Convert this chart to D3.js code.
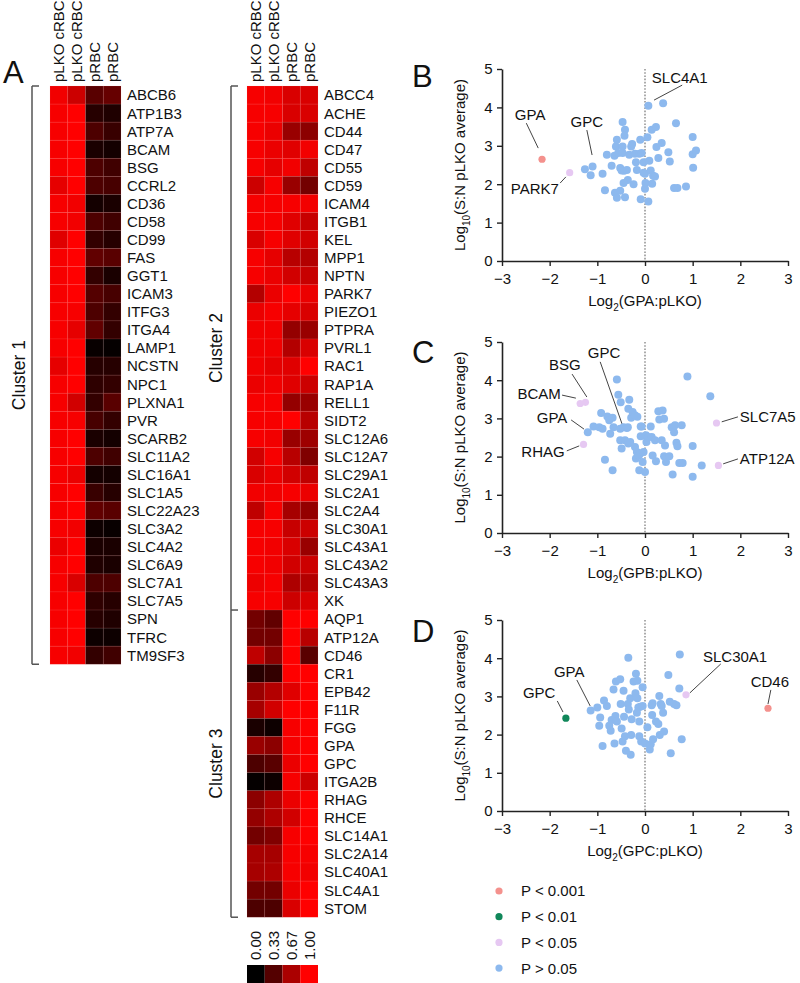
<!DOCTYPE html>
<html><head><meta charset="utf-8">
<script src="https://cdn.jsdelivr.net/npm/d3@7"></script>
<style>body{margin:0;background:#fff}svg{display:block;font-family:"Liberation Sans",Arial,sans-serif}</style>
</head><body><svg id="c" width="800" height="983"></svg>
<script>
// ---------------- DATA ----------------
const columns = ["pLKO cRBC","pLKO cRBC","pRBC","pRBC"];
const cluster1Genes = ["ABCB6","ATP1B3","ATP7A","BCAM","BSG","CCRL2","CD36","CD58","CD99","FAS","GGT1","ICAM3","ITFG3","ITGA4","LAMP1","NCSTN","NPC1","PLXNA1","PVR","SCARB2","SLC11A2","SLC16A1","SLC1A5","SLC22A23","SLC3A2","SLC4A2","SLC6A9","SLC7A1","SLC7A5","SPN","TFRC","TM9SF3"];
const cluster1Values = [[0.95,0.8,0.35,0.4],[0.97,1,0.15,0.12],[0.97,1,0.3,0.22],[0.97,1,0.1,0.08],[0.97,1,0.3,0.25],[0.9,1,0.3,0.28],[0.97,0.95,0.08,0.1],[0.97,0.95,0.3,0.25],[0.88,1,0.2,0.15],[0.97,1,0.38,0.35],[0.97,1,0.2,0.1],[0.97,1,0.33,0.28],[0.97,0.97,0.3,0.2],[0.97,0.9,0.38,0.2],[0.97,1,0.03,0.02],[0.9,1,0.15,0.15],[0.97,1,0.18,0.2],[0.97,0.82,0.2,0.35],[0.97,0.97,0.28,0.2],[0.97,1,0.1,0.08],[0.97,1,0.3,0.25],[0.97,0.92,0.08,0.08],[0.97,1,0.22,0.15],[0.97,1,0.38,0.35],[0.97,0.95,0.05,0.03],[0.92,1,0.1,0.1],[0.97,1,0.12,0.1],[0.97,0.85,0.3,0.3],[0.97,1,0.18,0.15],[0.97,1,0.15,0.12],[0.97,1,0.05,0.05],[0.97,0.95,0.2,0.25]];
const cluster2Genes = ["ABCC4","ACHE","CD44","CD47","CD55","CD59","ICAM4","ITGB1","KEL","MPP1","NPTN","PARK7","PIEZO1","PTPRA","PVRL1","RAC1","RAP1A","RELL1","SIDT2","SLC12A6","SLC12A7","SLC29A1","SLC2A1","SLC2A4","SLC30A1","SLC43A1","SLC43A2","SLC43A3","XK"];
const cluster2Values = [[0.97,0.95,0.85,0.85],[0.97,0.97,0.85,0.85],[0.97,0.92,0.6,0.55],[0.97,0.92,0.88,0.95],[0.97,0.9,0.95,0.75],[0.8,0.97,0.6,0.45],[0.97,0.97,0.97,0.95],[0.97,0.97,0.88,0.78],[0.85,0.97,0.88,0.82],[0.97,0.9,0.72,0.7],[0.97,0.92,0.82,0.78],[0.7,0.92,1,0.92],[0.92,0.97,0.9,0.85],[0.95,0.95,0.58,0.6],[0.95,0.95,0.7,0.85],[0.95,0.9,0.88,1],[0.92,0.95,0.88,0.8],[0.97,0.97,0.58,0.6],[0.97,0.97,1,0.72],[0.97,0.95,0.6,0.62],[0.82,0.97,0.72,0.5],[0.85,0.92,0.82,0.75],[0.95,0.95,0.97,0.92],[0.75,0.97,0.65,0.58],[0.97,0.97,0.78,0.8],[0.97,0.95,0.85,0.6],[0.97,0.95,0.82,0.8],[0.93,0.97,0.68,0.7],[0.97,0.97,0.8,0.85]];
const cluster3Genes = ["AQP1","ATP12A","CD46","CR1","EPB42","F11R","FGG","GPA","GPC","ITGA2B","RHAG","RHCE","SLC14A1","SLC2A14","SLC40A1","SLC4A1","STOM"];
const cluster3Values = [[0.45,0.38,1,1],[0.45,0.45,1,0.72],[0.75,0.55,1,0.35],[0.15,0.2,1,1],[0.6,0.7,0.88,1],[0.65,0.82,1,1],[0.1,0.05,0.97,1],[0.6,0.55,0.97,1],[0.3,0.35,0.92,1],[0.02,0.05,0.97,0.8],[0.55,0.68,0.92,1],[0.58,0.68,0.82,1],[0.45,0.5,0.97,1],[0.65,0.65,0.97,0.97],[0.65,0.68,0.97,0.95],[0.45,0.45,0.92,1],[0.3,0.3,0.85,1]];
const colorbarTicks = [0, 0.33, 0.67, 1.0];

const xTicks = [-3,-2,-1,0,1,2,3];
const yTicks = [0,1,2,3,4,5];
const pCategories = ["P < 0.001","P < 0.01","P < 0.05","P > 0.05"];
const pColors = ["#f4918d","#10875a","#e6c8f2","#8db9ee"];

// Panel B: Log2(GPA:pLKO)
const bBlue = [[-1.26,2.39],[-1.10,2.46],[-1.14,2.23],[-0.89,2.27],[-0.84,1.84],[-0.80,2.77],[-0.70,2.48],[-0.64,2.74],[-0.61,2.98],[-0.59,3.16],[-0.63,1.78],[-0.59,1.65],[-0.52,1.83],[-0.56,2.81],[-0.52,2.42],[-0.47,2.81],[-0.47,3.62],[-0.42,3.42],[-0.43,3.26],[-0.47,2.98],[-0.49,2.36],[-0.44,2.35],[-0.38,2.37],[-0.36,2.11],[-0.45,2.03],[-0.42,1.66],[-0.33,2.77],[-0.29,2.98],[-0.27,3.05],[-0.24,2.00],[-0.21,2.79],[-0.19,2.57],[-0.17,2.37],[-0.10,3.16],[-0.12,2.79],[-0.07,2.81],[-0.09,1.61],[-0.03,2.57],[-0.03,2.30],[0.0,2.27],[0.01,2.03],[0.0,1.88],[0.07,1.55],[0.07,4.04],[0.05,3.22],[0.09,2.61],[0.12,2.36],[0.14,3.42],[0.15,2.01],[0.17,2.22],[0.21,2.20],[0.23,3.49],[0.24,2.97],[0.28,2.68],[0.35,3.07],[0.38,4.11],[0.49,2.83],[0.52,2.59],[0.65,3.59],[0.61,1.90],[0.68,1.90],[0.86,1.94],[1.00,3.23],[1.00,2.78],[1.07,2.88],[1.01,2.43]];
const bHighlights = [
  {gene:"GPA", x:-2.16, y:2.65, p:0, lx:-2.41, ly:3.80, anchor:"middle", l1:[-2.49,3.59], l2:[-2.24,2.94]},
  {gene:"PARK7", x:-1.58, y:2.30, p:2, lx:-2.31, ly:1.88, anchor:"middle", l1:[-1.78,2.03], l2:[-1.66,2.19]}
];
const bLabels = [
  {gene:"GPC", lx:-1.22, ly:3.62, anchor:"middle", l1:[-1.22,3.41], l2:[-1.11,2.76]},
  {gene:"SLC4A1", lx:0.73, ly:4.77, anchor:"middle", l1:[0.78,4.58], l2:[0.19,4.19]}
];

// Panel C: Log2(GPB:pLKO)
const cBlue = [[-1.20,2.64],[-1.08,2.79],[-0.92,3.14],[-0.96,2.77],[-0.89,2.73],[-0.84,1.92],[-0.79,3.05],[-0.75,2.95],[-0.73,2.60],[-0.68,3.02],[-0.66,2.77],[-0.68,1.64],[-0.59,4.02],[-0.56,3.62],[-0.52,2.73],[-0.51,3.42],[-0.52,2.43],[-0.49,2.21],[-0.45,2.77],[-0.38,2.75],[-0.36,2.77],[-0.33,3.49],[-0.35,3.25],[-0.42,2.43],[-0.35,2.34],[-0.31,2.38],[-0.29,3.02],[-0.26,3.17],[-0.21,3.08],[-0.21,2.25],[-0.19,1.95],[-0.17,2.12],[-0.16,3.04],[-0.13,2.03],[-0.10,2.08],[-0.09,2.79],[-0.03,2.12],[-0.05,1.86],[-0.12,1.64],[-0.07,2.79],[-0.09,2.53],[0.0,1.60],[0.02,2.56],[0.03,2.38],[0.07,2.51],[0.12,2.79],[0.14,2.51],[0.16,2.03],[0.21,2.43],[0.23,1.88],[0.28,3.19],[0.30,2.97],[0.35,2.43],[0.37,3.21],[0.40,2.99],[0.42,2.29],[0.40,2.01],[0.44,1.86],[0.51,2.01],[0.56,2.77],[0.58,1.53],[0.61,2.64],[0.63,2.82],[0.66,2.36],[0.68,2.27],[0.72,1.83],[0.77,2.82],[0.79,1.83],[0.89,4.10],[1.00,2.28],[1.00,1.47],[1.19,1.77],[1.37,3.58]];
const cHighlights = [
  {gene:"BCAM", x:-1.36, y:3.39, p:2, lx:-2.22, ly:3.66, anchor:"middle", l1:[-1.74,3.61], l2:[-1.45,3.53]},
  {gene:"BSG", x:-1.25, y:3.42, p:2, lx:-1.68, ly:4.40, anchor:"middle", l1:[-1.53,4.16], l2:[-1.22,3.56]},
  {gene:"RHAG", x:-1.29, y:2.32, p:2, lx:-2.14, ly:2.12, anchor:"middle", l1:[-1.64,2.15], l2:[-1.38,2.28]},
  {gene:"SLC7A5", x:1.50, y:2.88, p:2, lx:1.99, ly:3.04, anchor:"start", l1:[1.61,2.91], l2:[1.95,3.04]},
  {gene:"ATP12A", x:1.54, y:1.77, p:2, lx:1.99, ly:1.94, anchor:"start", l1:[1.64,1.81], l2:[1.95,1.94]}
];
const cLabels = [
  {gene:"GPC", lx:-0.86, ly:4.71, anchor:"middle", l1:[-0.94,4.48], l2:[-0.48,2.85]},
  {gene:"GPA", lx:-1.95, ly:3.01, anchor:"middle", l1:[-1.55,2.96], l2:[-1.28,2.72]}
];

// Panel D: Log2(GPC:pLKO)
const dBlue = [[-1.14,2.63],[-1.00,2.71],[-0.96,2.23],[-0.94,2.45],[-0.89,1.70],[-0.86,2.89],[-0.80,2.75],[-0.75,2.23],[-0.72,2.10],[-0.70,2.38],[-0.66,3.18],[-0.64,1.77],[-0.62,2.49],[-0.61,3.39],[-0.59,2.34],[-0.52,3.45],[-0.51,2.80],[-0.49,2.16],[-0.47,1.82],[-0.45,3.15],[-0.44,2.47],[-0.42,1.96],[-0.40,1.58],[-0.35,4.01],[-0.36,2.80],[-0.34,2.66],[-0.31,2.95],[-0.30,1.47],[-0.28,2.40],[-0.29,1.99],[-0.24,3.39],[-0.20,3.08],[-0.19,3.59],[-0.17,2.57],[-0.16,3.41],[-0.16,2.95],[-0.14,2.71],[-0.12,1.96],[-0.12,2.34],[-0.10,2.73],[-0.08,1.82],[-0.05,3.24],[-0.05,2.75],[0.0,1.77],[0.05,2.19],[0.10,1.61],[0.12,1.75],[0.14,2.77],[0.15,2.51],[0.17,1.88],[0.16,2.82],[0.23,2.34],[0.28,2.28],[0.30,3.01],[0.31,1.99],[0.33,2.80],[0.35,2.75],[0.38,2.57],[0.40,2.08],[0.49,3.56],[0.52,2.86],[0.54,1.51],[0.61,2.80],[0.66,2.77],[0.72,3.21],[0.73,4.10],[0.77,1.88]];
const dHighlights = [
  {gene:"GPC", x:-1.66, y:2.43, p:1, lx:-2.22, ly:3.09, anchor:"middle", l1:[-1.84,2.88], l2:[-1.72,2.59]},
  {gene:"SLC30A1", x:0.86, y:3.04, p:2, lx:1.89, ly:4.03, anchor:"middle", l1:[1.59,3.85], l2:[0.94,3.09]},
  {gene:"CD46", x:2.58, y:2.69, p:0, lx:2.62, ly:3.40, anchor:"middle", l1:[2.64,3.17], l2:[2.58,2.80]}
];
const dLabels = [
  {gene:"GPA", lx:-1.59, ly:3.64, anchor:"middle", l1:[-1.43,3.43], l2:[-1.15,2.75]}
];

// ---------------- DRAW ----------------
const svg = d3.select("#c");
const FONT = 15;
const heat = d3.scaleLinear().domain([0,1]).range(["#000000","#ff0000"]);
const rowH = 18.07, heatTop = 86;

function drawHeat(genes, values, x0, rowStart) {
  const xs = d3.scaleBand().domain(d3.range(4)).range([x0, x0+71]);
  const ys = d3.scaleBand().domain(d3.range(genes.length)).range([heatTop+rowStart*rowH, heatTop+(rowStart+genes.length)*rowH]);
  const g = svg.append("g");
  values.forEach((row,i)=>row.forEach((v,j)=>{
    g.append("rect").attr("x",xs(j)).attr("y",ys(i)).attr("width",xs.bandwidth()).attr("height",ys.bandwidth())
     .attr("fill",heat(v)).attr("stroke","rgba(255,150,150,0.15)").attr("stroke-width",0.7);
  }));
  genes.forEach((gname,i)=>{
    g.append("text").attr("x",x0+77).attr("y",ys(i)+ys.bandwidth()/2).attr("dy","0.36em")
     .attr("font-size",FONT).attr("fill","#111").text(gname);
  });
  return xs;
}
function drawColLabels(xs) {
  columns.forEach((c,j)=>{
    svg.append("text").attr("transform",`translate(${xs(j)+xs.bandwidth()/2+5.5},82) rotate(-90)`)
      .attr("font-size",FONT).attr("fill","#111").text(c);
  });
}
function bracket(x, y1, y2, label, lx, topTick, botTick) {
  const g = svg.append("g").attr("stroke","#555").attr("stroke-width",1.5).attr("fill","none");
  g.append("line").attr("x1",x).attr("x2",x).attr("y1",y1).attr("y2",y2);
  if (topTick) g.append("line").attr("x1",x).attr("x2",x+7).attr("y1",y1).attr("y2",y1);
  if (botTick) g.append("line").attr("x1",x).attr("x2",x+7).attr("y1",y2).attr("y2",y2);
  svg.append("text").attr("transform",`translate(${lx},${(y1+y2)/2}) rotate(-90)`)
    .attr("text-anchor","middle").attr("dy","0.36em").attr("font-size",17.5).attr("fill","#111").text(label);
}

const xs1 = drawHeat(cluster1Genes, cluster1Values, 50, 0);
drawColLabels(xs1);
const xs2 = drawHeat(cluster2Genes, cluster2Values, 247, 0);
drawHeat(cluster3Genes, cluster3Values, 247, cluster2Genes.length);
drawColLabels(xs2);

bracket(32, heatTop, heatTop+cluster1Genes.length*rowH, "Cluster 1", 19, true, true);
bracket(231, heatTop, heatTop+cluster2Genes.length*rowH, "Cluster 2", 216, true, true);
bracket(231, heatTop+cluster2Genes.length*rowH, heatTop+(cluster2Genes.length+cluster3Genes.length)*rowH, "Cluster 3", 216, false, true);

// colorbar
colorbarTicks.forEach((v,j)=>{
  svg.append("rect").attr("x",xs2(j)).attr("y",965).attr("width",xs2.bandwidth()).attr("height",18).attr("fill",heat(v));
  svg.append("text").attr("transform",`translate(${xs2(j)+xs2.bandwidth()/2+5.5},960) rotate(-90)`)
    .attr("font-size",FONT).attr("fill","#111").text(v.toFixed(2));
});

// panel letters
[["A",3,83],["B",412,87],["C",412,363],["D",412,642]].forEach(([t,x,y])=>{
  svg.append("text").attr("x",x).attr("y",y).attr("font-size",31).attr("fill","#111").text(t);
});

function scatter(top, bottom, xTitle, blue, highs, labels) {
  const x = d3.scaleLinear().domain([-3,3]).range([502,788]);
  const y = d3.scaleLinear().domain([0,5]).range([bottom, top]);
  const g = svg.append("g");
  const xa = g.append("g").attr("transform",`translate(0,${bottom})`)
    .call(d3.axisBottom(x).tickValues(xTicks).tickSize(5).tickSizeOuter(0).tickFormat(d3.format("d")));
  const ya = g.append("g").attr("transform",`translate(502,0)`)
    .call(d3.axisLeft(y).tickValues(yTicks).tickSize(5).tickSizeOuter(0).tickFormat(d3.format("d")));
  [xa,ya].forEach(a=>{
    a.select(".domain").attr("stroke","#222").attr("stroke-width",1.6);
    a.selectAll(".tick line").attr("stroke","#222").attr("stroke-width",1.4);
    a.selectAll("text").attr("font-size",FONT).attr("fill","#111").attr("font-family","Liberation Sans, Arial, sans-serif");
  });
  xa.selectAll("text").attr("dy","1.0em");
  ya.selectAll("text").attr("dx","-0.1em");
  // dotted zero line
  g.append("line").attr("x1",x(0)).attr("x2",x(0)).attr("y1",y(5)).attr("y2",y(0))
    .attr("stroke","#888").attr("stroke-width",1.4).attr("stroke-dasharray","1.6,1.6");
  // axis titles
  const yt = g.append("text").attr("transform",`translate(460,${(top+bottom)/2}) rotate(-90)`)
    .attr("text-anchor","middle").attr("dy","0.36em").attr("font-size",FONT).attr("fill","#111");
  yt.append("tspan").text("Log");
  yt.append("tspan").attr("font-size",10).attr("dy","0.45em").text("10");
  yt.append("tspan").attr("dy","-0.3em").text("(S:N pLKO average)");
  const xt = g.append("text").attr("x",645).attr("y",bottom+45).attr("text-anchor","middle").attr("font-size",FONT).attr("fill","#111");
  xt.append("tspan").text("Log");
  xt.append("tspan").attr("font-size",10).attr("dy","0.45em").text("2");
  xt.append("tspan").attr("dy","-0.3em").text(xTitle);
  // leader lines + labels
  highs.concat(labels).forEach(h=>{
    g.append("line").attr("x1",x(h.l1[0])).attr("y1",y(h.l1[1])).attr("x2",x(h.l2[0])).attr("y2",y(h.l2[1]))
      .attr("stroke","#444").attr("stroke-width",1);
    g.append("text").attr("x",x(h.lx)).attr("y",y(h.ly)).attr("dy","0.36em").attr("text-anchor",h.anchor)
      .attr("font-size",FONT).attr("fill","#111").text(h.gene);
  });
  // points
  g.selectAll("circle.b").data(blue).join("circle").attr("cx",d=>x(d[0])).attr("cy",d=>y(d[1])).attr("r",4).attr("fill",pColors[3]);
  g.selectAll("circle.h").data(highs).join("circle").attr("cx",d=>x(d.x)).attr("cy",d=>y(d.y)).attr("r",3.6).attr("fill",d=>pColors[d.p]);
}
scatter(69, 261, "(GPA:pLKO)", bBlue, bHighlights, bLabels);
scatter(342, 533, "(GPB:pLKO)", cBlue, cHighlights, cLabels);
scatter(620, 811, "(GPC:pLKO)", dBlue, dHighlights, dLabels);

// legend
pCategories.forEach((p,i)=>{
  const yy = 891 + i*25.7;
  svg.append("circle").attr("cx",499).attr("cy",yy).attr("r",3.6).attr("fill",pColors[i]);
  svg.append("text").attr("x",521).attr("y",yy).attr("dy","0.36em").attr("font-size",FONT).attr("fill","#111").text(p);
});
</script></body></html>
